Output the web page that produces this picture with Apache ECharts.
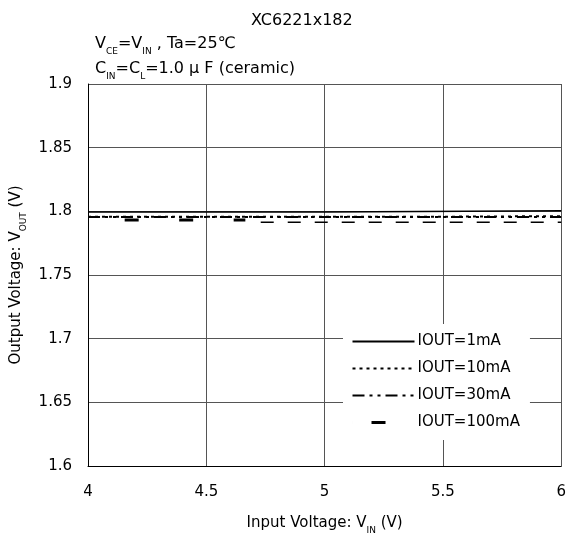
<!DOCTYPE html>
<html>
<head>
<meta charset="utf-8">
<script src="https://cdn.jsdelivr.net/npm/echarts@6/dist/echarts.min.js"></script>
<style>
html,body{margin:0;padding:0;background:#fff;}
#c{width:569px;height:540px;}
</style>
</head>
<body>
<div id="c"></div>
<script>
// ---- data ----
const xTicks = [4, 4.5, 5, 5.5, 6];
const yTicks = [1.6, 1.65, 1.7, 1.75, 1.8, 1.85, 1.9];

const vin1mA = [4, 5, 5.005, 6];
const vout1mA = [1.7995, 1.7995, 1.8005, 1.8005];

const vin10mA = [4, 5.5, 6];
const vout10mA = [1.7958, 1.7958, 1.7962];

const vin30mA = [4, 6];
const vout30mA = [1.7955, 1.7955];

const vin100mA_a = [4.155, 4.665];
const vout100mA_a = [1.7932, 1.7932];
const vin100mA_b = [4.73, 6];
const vout100mA_b = [1.7915, 1.7915];

const seriesNames = ['IOUT=1mA', 'IOUT=10mA', 'IOUT=30mA', 'IOUT=100mA'];

function pairs(xs, ys) { return xs.map((x, i) => [x, ys[i]]); }

const FONT = '"DejaVu Sans", sans-serif';
const chart = echarts.init(document.getElementById('c'), null, {renderer: 'canvas'});

const sub = {fontSize: 9, verticalAlign: 'bottom', padding: [0, 0, -4, 0], fontFamily: FONT, color: '#000'};

const option = {
  backgroundColor: '#fff',
  animation: false,
  title: [
    {text: 'XC6221x182', left: 246, top: 8,
     textStyle: {fontFamily: FONT, fontSize: 16, fontWeight: 'normal', color: '#000'}},
    {text: 'V{s|CE}=V{s|IN} , Ta=25℃', left: 90, top: 31,
     textStyle: {fontFamily: FONT, fontSize: 16, fontWeight: 'normal', color: '#000', rich: {s: sub}}},
    {text: 'C{s|IN}=C{s|L}=1.0 μ F (ceramic)', left: 90, top: 56,
     textStyle: {fontFamily: FONT, fontSize: 16, fontWeight: 'normal', color: '#000', rich: {s: sub}}}
  ],
  grid: {left: 88, right: 4, top: 84, bottom: 68, containLabel: false},
  xAxis: {
    type: 'value', min: xTicks[0], max: xTicks[xTicks.length - 1], interval: 0.5,
    axisLine: {show: true, lineStyle: {color: '#000', width: 1}},
    axisTick: {show: false},
    splitLine: {show: true, lineStyle: {color: '#555', width: 1}},
    axisLabel: {fontFamily: FONT, fontSize: 15, color: '#000', margin: 19,
      formatter: v => String(v)},
    name: 'Input Voltage: V{s|IN} (V)', nameLocation: 'middle', nameGap: 50,
    nameTextStyle: {fontFamily: FONT, fontSize: 15, color: '#000', rich: {s: sub}}
  },
  yAxis: {
    type: 'value', min: yTicks[0], max: yTicks[yTicks.length - 1], interval: 0.05,
    axisLine: {show: true, lineStyle: {color: '#000', width: 1}},
    axisTick: {show: false},
    splitLine: {show: true, lineStyle: {color: '#555', width: 1}},
    axisLabel: {fontFamily: FONT, fontSize: 15, color: '#000', margin: 16,
      formatter: v => String(+v.toFixed(2))},
    name: 'Output Voltage: V{s|OUT} (V)', nameLocation: 'middle', nameGap: 56,
    nameTextStyle: {fontFamily: FONT, fontSize: 15, color: '#000', rich: {s: sub}}
  },
  legend: {
    orient: 'vertical', left: 343, top: 324, width: 170,
    backgroundColor: '#fff', padding: [10, 10, 10, 8],
    itemWidth: 62, itemHeight: 14, itemGap: 12,
    itemStyle: {opacity: 0},
    textStyle: {fontFamily: FONT, fontSize: 15, color: '#000', padding: [0, 0, 0, -2]},
    data: [
      {name: seriesNames[0]},
      {name: seriesNames[1]},
      {name: seriesNames[2]},
      {name: seriesNames[3], lineStyle: {type: [0.01, 19, 14, 200], width: 3, color: '#000'}}
    ]
  },
  series: [
    {name: seriesNames[0], type: 'line', data: pairs(vin1mA, vout1mA), showSymbol: false, symbol: 'none',
     lineStyle: {color: '#000', width: 1.5, type: 'solid'}, itemStyle: {color: '#000'}},
    {name: seriesNames[1], type: 'line', data: pairs(vin10mA, vout10mA), showSymbol: false, symbol: 'none',
     lineStyle: {color: '#000', width: 2, type: [3, 4]}, itemStyle: {color: '#000'}},
    {name: seriesNames[2], type: 'line', data: pairs(vin30mA, vout30mA), showSymbol: false, symbol: 'none',
     lineStyle: {color: '#000', width: 2, type: [12, 5, 3, 5, 3, 5]}, itemStyle: {color: '#000'}},
    {name: seriesNames[3], type: 'line', data: pairs(vin100mA_a, vout100mA_a), showSymbol: false, symbol: 'none',
     lineStyle: {color: '#000', width: 3, type: [14, 40.5]}, itemStyle: {color: '#000'}},
    {name: seriesNames[3], type: 'line', data: pairs(vin100mA_b, vout100mA_b), showSymbol: false, symbol: 'none',
     lineStyle: {color: '#000', width: 1.5, type: [13, 14]}, itemStyle: {color: '#000'}}
  ]
};
chart.setOption(option);
</script>
</body>
</html>
